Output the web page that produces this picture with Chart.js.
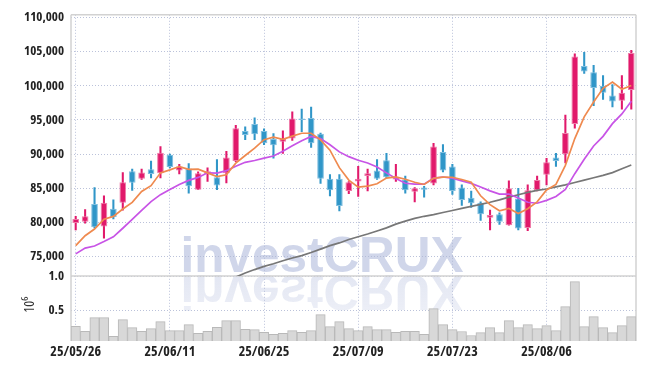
<!DOCTYPE html>
<html><head><meta charset="utf-8">
<style>html,body{margin:0;padding:0;background:#fff;}#wrap{width:645px;height:369px;position:relative;}</style>
<script src="https://cdn.jsdelivr.net/npm/chart.js@4.4.1/dist/chart.umd.min.js"></script>
</head><body><div id="wrap"><canvas id="c" width="645" height="369"></canvas></div>
<script>
const dates = ['25/05/26','25/05/27','25/05/28','25/05/29','25/05/30','25/06/02','25/06/04','25/06/05','25/06/09','25/06/10',
'25/06/11','25/06/12','25/06/13','25/06/16','25/06/17','25/06/18','25/06/19','25/06/20','25/06/23','25/06/24',
'25/06/25','25/06/26','25/06/27','25/06/30','25/07/01','25/07/02','25/07/03','25/07/04','25/07/07','25/07/08',
'25/07/09','25/07/10','25/07/11','25/07/14','25/07/15','25/07/16','25/07/17','25/07/18','25/07/21','25/07/22',
'25/07/23','25/07/24','25/07/25','25/07/28','25/07/29','25/07/30','25/07/31','25/08/01','25/08/04','25/08/05',
'25/08/06','25/08/07','25/08/08','25/08/11','25/08/12','25/08/13','25/08/14','25/08/18','25/08/19','25/08/20'];

const opens = [79900,80100,82700,79400,82000,82900,87500,86400,87800,87200,
89900,87600,87900,84800,87100,86600,87200,89000,93400,94400,
93400,92200,91800,92300,95200,95300,93000,86400,86400,84600,
86000,86800,87600,89100,86300,86300,84500,85100,85700,90300,
88200,85100,83600,82900,80700,81200,79600,83500,79200,84700,
87000,89500,90000,94400,102900,102000,100000,98600,97800,99400];
const highs = [80900,81900,85100,83900,83300,87300,87800,87800,89000,91100,
90000,88500,88600,87400,88000,89200,90400,94200,94000,95300,
93700,93000,93400,96200,96600,96900,93100,87000,87000,86000,
88200,87800,89200,90100,88500,86800,85100,85300,91600,91400,
88500,85500,84600,83000,81800,81400,86100,85000,85500,86800,
89400,90100,95700,104700,104900,103000,101500,100200,101500,105200];
const lows = [78900,79900,79200,77700,80500,81800,84700,86300,86500,86500,
88000,87100,84300,84800,86000,84800,85800,88900,92100,92100,
91400,89400,90100,92000,93300,91000,85700,83900,81700,84200,
83800,84600,86300,86500,86000,84300,83000,83700,85500,87400,
84100,82500,82200,80300,78900,79700,79600,78900,78800,84600,
85500,88200,88700,93800,101800,97100,98000,96900,96600,96600];
const closes = [80500,80900,79300,82900,80800,85900,85800,87300,87100,90200,
88100,88200,85300,87200,87500,85400,89500,93800,92800,92900,
91600,91300,92200,95200,95000,91600,86400,84700,82400,85900,
86400,87200,86400,86600,86700,84700,85000,84800,91100,87600,
84600,83300,82800,81200,81100,80100,85000,79100,84700,86200,
88800,89000,93100,104300,102100,99700,99000,97700,99000,104800];

// volume in millions (10^6)
const volumes = [0.273,0.201,0.399,0.399,0.129,0.370,0.254,0.201,0.240,0.341,
0.211,0.211,0.298,0.172,0.201,0.259,0.355,0.355,0.230,0.225,
0.186,0.158,0.172,0.211,0.186,0.211,0.442,0.269,0.341,0.240,
0.211,0.269,0.225,0.225,0.186,0.201,0.201,0.158,0.529,0.298,
0.225,0.197,0.139,0.182,0.254,0.182,0.355,0.254,0.298,0.240,
0.283,0.211,0.558,0.919,0.269,0.413,0.254,0.182,0.283,0.413];

const ma5 = [76600,78050,79040,80480,80880,81960,82940,84540,85380,87260,
87700,88180,87780,87800,87260,86720,86980,88680,89800,90880,
92120,92480,92160,92640,93060,93060,92080,90580,88020,86200,
85160,85320,85660,86500,86660,86320,85880,85560,86460,86640,
86620,86280,85880,83900,82600,81700,82040,81300,82000,83020,
84760,85560,88360,92280,95460,97640,99640,100560,99500,100040];
const ma10 = [75400,76250,76550,77200,77900,79150,80450,81750,83050,84070,
84830,85560,86160,86590,87260,87210,87580,88230,88800,89070,
89420,89730,90420,91220,91970,92590,92280,91370,90330,89630,
89110,88700,88120,87260,86430,85740,85600,85610,86480,86650,
86470,86080,85720,85180,84620,84160,84160,83590,82950,82810,
83230,83800,84830,87140,89240,91200,92600,94460,95890,97750];
const maLong = [null,null,null,null,null,null,null,null,null,null,
null,null,null,null,null,null,null,72000,72600,73100,
73560,73950,74400,74800,75150,75600,76100,76600,77000,77500,
77900,78300,78750,79200,79750,80200,80600,80900,81150,81450,
81750,82050,82350,82650,82950,83300,83700,84050,84400,84700,
84900,85200,85500,85850,86200,86550,86900,87300,87850,88400];

const priceTicks = [75000,80000,85000,90000,95000,100000,105000,110000];
const volumeTicks = [0.5,1.0];
const labelEvery = 10;

const UP = '#e1196b', UP_L = '#ee7ba8';
const DOWN = '#3096c8', DOWN_L = '#80bfe0';
const GRID = 'rgba(175,183,212,0.85)';
const FAM = '"Open Sans","Liberation Sans",sans-serif';
const WM = 'investCRUX';

const isUp = i => closes[i] >= opens[i];

const watermark = {
  id:'watermark',
  beforeDraw(chart){
    const ctx = chart.ctx;
    ctx.save();
    ctx.font = 'bold 50px "Liberation Sans", Arial, sans-serif';
    ctx.textAlign = 'center';
    ctx.textBaseline = 'alphabetic';
    const w = ctx.measureText(WM).width;
    const sx = 283 / w;
    ctx.save();
    ctx.translate(322, 272);
    ctx.scale(sx, 1);
    ctx.fillStyle = '#d0d6ea';
    ctx.fillText(WM, 0, 0);
    ctx.restore();
    ctx.save();
    ctx.translate(322, 275);
    ctx.scale(sx, -1);
    const g = ctx.createLinearGradient(0, 0, 0, -40);
    g.addColorStop(0, 'rgba(208,214,234,0.6)');
    g.addColorStop(1, 'rgba(208,214,234,0.38)');
    ctx.fillStyle = g;
    ctx.fillText(WM, 0, 0);
    ctx.restore();
    ctx.restore();
  }
};

const frame = {
  id:'frame',
  beforeDatasetsDraw(chart){
    const {ctx, chartArea:a} = chart;
    const sep = chart.scales.y.bottom;
    ctx.save();
    ctx.strokeStyle = '#d2d2d2';
    ctx.lineWidth = 1.5;
    ctx.beginPath();
    ctx.moveTo(a.left, a.top); ctx.lineTo(a.right, a.top);
    ctx.moveTo(a.right, a.top); ctx.lineTo(a.right, a.bottom);
    ctx.moveTo(a.left, a.top); ctx.lineTo(a.left, a.bottom);
    ctx.moveTo(a.left, sep); ctx.lineTo(a.right, sep);
    ctx.stroke();
    ctx.restore();
  }
};

new Chart(document.getElementById('c'), {
  data: {
    labels: dates,
    datasets: [
      { type:'line', label:'MA5', data:ma5, yAxisID:'y', borderColor:'#ef8a4f', borderWidth:1.7, pointRadius:0, tension:0, order:0 },
      { type:'line', label:'MA10', data:ma10, yAxisID:'y', borderColor:'#c854e6', borderWidth:1.7, pointRadius:0, tension:0, order:0 },
      { type:'line', label:'MA long', data:maLong, yAxisID:'y', borderColor:'#777777', borderWidth:1.7, pointRadius:0, tension:0, order:0, spanGaps:false },
      { type:'bar', label:'body', data:opens.map((o,i)=>[o, closes[i]]), yAxisID:'y', grouped:false,
        barPercentage:0.71, categoryPercentage:1,
        backgroundColor:c=>isUp(c.dataIndex)?UP:DOWN, borderColor:c=>isUp(c.dataIndex)?UP_L:DOWN_L,
        borderWidth:1, borderSkipped:false, order:1 },
      { type:'bar', label:'wick', data:lows.map((l,i)=>[l, highs[i]]), yAxisID:'y', grouped:false,
        barThickness:1.4, backgroundColor:c=>isUp(c.dataIndex)?UP:DOWN, order:2 },
      { type:'bar', label:'volume', data:volumes, yAxisID:'yv', grouped:false,
        barPercentage:1, categoryPercentage:1, backgroundColor:'#d8d8d8', borderColor:'#b9b9b9', borderWidth:1, order:3 }
    ]
  },
  options: {
    responsive:false, animation:false, devicePixelRatio:1,
    layout:{ padding:{ left:0, right:9, top:12, bottom:0 } },
    plugins:{ legend:{display:false}, tooltip:{enabled:false} },
    scales:{
      x:{
        type:'category', offset:true,
        grid:{ offset:false, drawTicks:false, lineWidth:1, color:c=> (c.index % labelEvery === 0 ? GRID : 'rgba(0,0,0,0)') },
        border:{ display:false, dash:[1,2] },
        ticks:{ autoSkip:false, maxRotation:0, minRotation:0, padding:3, color:'#222',
          font:{ family:FAM, size:14, weight:'bold condensed' },
          callback:(v,i)=> i % labelEvery === 0 ? dates[i] : '' },
        afterFit:s=>{ s.height = 28; }
      },
      yv:{
        position:'left', stack:'main', stackWeight:65.5, min:0.06, max:1.0,
        grid:{ drawTicks:false, color:GRID, lineWidth:1 },
        border:{ display:false, dash:[1,2] },
        ticks:{ padding:7, color:'#222', font:{ family:FAM, size:13, weight:'bold condensed' },
          callback:v=> Number(v).toFixed(1) },
        afterBuildTicks:s=>{ s.ticks = volumeTicks.map(v=>({value:v})); },
        title:{ display:true, text:'   10\u2076', color:'#333', font:{ family:FAM, size:14, weight:'normal condensed' }, padding:{ top:22, bottom:0 } },
        afterFit:s=>{ s.width = 71; }
      },
      y:{
        position:'left', stack:'main', stackWeight:263.5, min:72150, max:110400,
        grid:{ drawTicks:false, color:GRID, lineWidth:1 },
        border:{ display:false, dash:[1,2] },
        ticks:{ padding:7, color:'#222', font:{ family:FAM, size:13, weight:'bold condensed' },
          callback:v=> Number(v).toLocaleString('en-US') },
        afterBuildTicks:s=>{ s.ticks = priceTicks.map(v=>({value:v})); },
        afterFit:s=>{ s.width = 71; }
      }
    }
  },
  plugins:[watermark, frame]
});
</script>
</body></html>
